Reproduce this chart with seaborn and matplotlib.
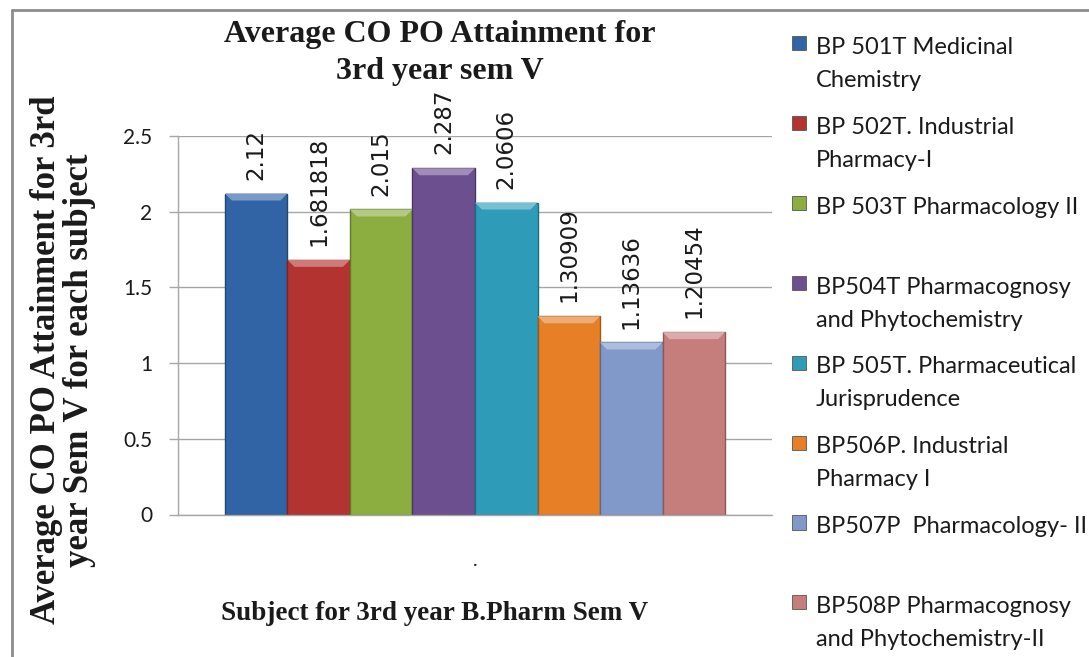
import matplotlib
matplotlib.use('agg')
import matplotlib.pyplot as plt
from matplotlib.patches import Patch, Rectangle, Polygon
from matplotlib.legend_handler import HandlerPatch
from matplotlib.lines import Line2D
from matplotlib.ticker import MultipleLocator, FuncFormatter
import seaborn as sns
import pandas as pd

sns.set_theme(style='white')
plt.rcParams['font.family'] = ['Lato', 'DejaVu Sans']

# --- data
subjects = [
    'BP 501T Medicinal\nChemistry',
    'BP 502T. Industrial\nPharmacy-I',
    'BP 503T Pharmacology II',
    'BP504T Pharmacognosy\nand Phytochemistry',
    'BP 505T. Pharmaceutical\nJurisprudence',
    'BP506P. Industrial\nPharmacy I',
    'BP507P  Pharmacology- II',
    'BP508P Pharmacognosy\nand Phytochemistry-II',
]
attainment = [2.12, 1.681818, 2.015, 2.287, 2.0606, 1.30909, 1.13636, 1.20454]
category = ['.'] * len(subjects)
colors = ['#3164a5', '#b33330', '#8cae41', '#6b4f8e',
          '#2e9cb8', '#e67f26', '#8199c9', '#c67e7d']

title = 'Average CO PO Attainment for\n3rd year sem V'
xlabel = 'Subject for 3rd year B.Pharm Sem V'
ylabel = 'Average CO PO Attainment for 3rd\nyear Sem V for each subject'

df = pd.DataFrame({'category': category, 'subject': subjects, 'value': attainment})

W, H = 1089, 657
fig = plt.figure(figsize=(W / 100, H / 100), dpi=100)
ax = fig.add_axes([178 / W, 1 - 514.5 / H, (772 - 178) / W, (514.5 - 136) / H])

sns.barplot(data=df, x='category', y='value', hue='subject', hue_order=subjects,
            palette=colors, saturation=1, width=0.842, gap=0, legend=False,
            errorbar=None, ax=ax)

ax.set_ylim(0, 2.5)
ax.set_xlim(-0.5, 0.5)

# darker outline + light top bevel like the excel bars
bev_x = 7 / 594 * 1.0
bev_y = 7 / 378.5 * 2.5
for patch in list(ax.patches):
    r, g, b, a = patch.get_facecolor()
    patch.set_edgecolor((r * 0.7, g * 0.7, b * 0.7, 1))
    patch.set_linewidth(1.0)
    x0 = patch.get_x()
    x1 = x0 + patch.get_width()
    top = patch.get_y() + patch.get_height()
    light = (r + (1 - r) * 0.35, g + (1 - g) * 0.35, b + (1 - b) * 0.35)
    ax.add_patch(Polygon([(x0, top), (x1, top), (x1 - bev_x, top - bev_y),
                          (x0 + bev_x, top - bev_y)],
                         closed=True, facecolor=light, edgecolor='none', zorder=patch.get_zorder() + 0.1))

# --- value labels on top of the bars
for cont, val in zip(ax.containers, attainment):
    ax.bar_label(cont, labels=[str(val)], rotation=90, padding=10,
                 fontsize=16.5, family='DejaVu Sans', color='#1a1a1a')

ax.yaxis.set_major_locator(MultipleLocator(0.5))
ax.yaxis.set_major_formatter(FuncFormatter(lambda v, p: '%g' % v))
ax.grid(axis='y', color='#a6a6a6', linewidth=1.0)
ax.set_axisbelow(True)
for s in ['top', 'right']:
    ax.spines[s].set_visible(False)
for s in ['left', 'bottom']:
    ax.spines[s].set_color('#a6a6a6')
    ax.spines[s].set_linewidth(1.0)
ax.tick_params(axis='y', which='major', left=True, length=6.5, width=1.0,
               color='#a6a6a6', pad=12, labelsize=15, labelcolor='#1a1a1a')
ax.tick_params(axis='x', length=0, pad=27, labelsize=14, labelcolor='#1a1a1a')

serif = dict(family='Liberation Serif', weight='bold', color='#1a1a1a')
ax.set_xlabel(xlabel, fontsize=19.5, **serif)
ax.xaxis.set_label_coords((435 - 178) / 594, (514.5 - 613) / 378.5)
ax.xaxis.label.set_verticalalignment('center')
ax.set_ylabel(ylabel, fontsize=25, linespacing=1.0, **serif)
ax.yaxis.set_label_coords((63 - 178) / 594, (514.5 - 360) / 378.5)
ax.yaxis.label.set_verticalalignment('center')
ax.set_title(title, fontsize=23, x=(440 - 178) / 594, y=(514.5 - 61) / 378.5,
             va='center', linespacing=1.35, **serif)

# --- legend: square markers next to the first line of each entry
leg_size = 17
lift = 0.9 * leg_size


def square(legend, orig_handle, xdescent, ydescent, width, height, fontsize):
    return Rectangle((-xdescent, -ydescent + lift), width, width)


handles = [Patch(facecolor=c, edgecolor='#555555', linewidth=0.6) for c in colors]
labels = [s if '\n' in s else s + '\n ' for s in subjects]
leg = ax.legend(handles, labels, loc='upper left',
                bbox_to_anchor=(792 / W, 1 - 37 / H), bbox_transform=fig.transFigure,
                frameon=False, borderpad=0, borderaxespad=0, fontsize=leg_size,
                handlelength=0.6, handleheight=0.6, handletextpad=0.4,
                labelspacing=1.1,
                handler_map={Patch: HandlerPatch(patch_func=square)})
for t in leg.get_texts():
    t.set_color('#1a1a1a')
    t.set_linespacing(1.7)

# --- grey chart frame (left and top edges visible)
fig.add_artist(Line2D([12 / W, 12 / W], [0, 1 - 10 / H], transform=fig.transFigure,
                      color='#8c8c8c', linewidth=2))
fig.add_artist(Line2D([12 / W, 1], [1 - 10 / H, 1 - 10 / H], transform=fig.transFigure,
                      color='#8c8c8c', linewidth=2))

plt.savefig('out.png', dpi=100)
plt.close(fig)
